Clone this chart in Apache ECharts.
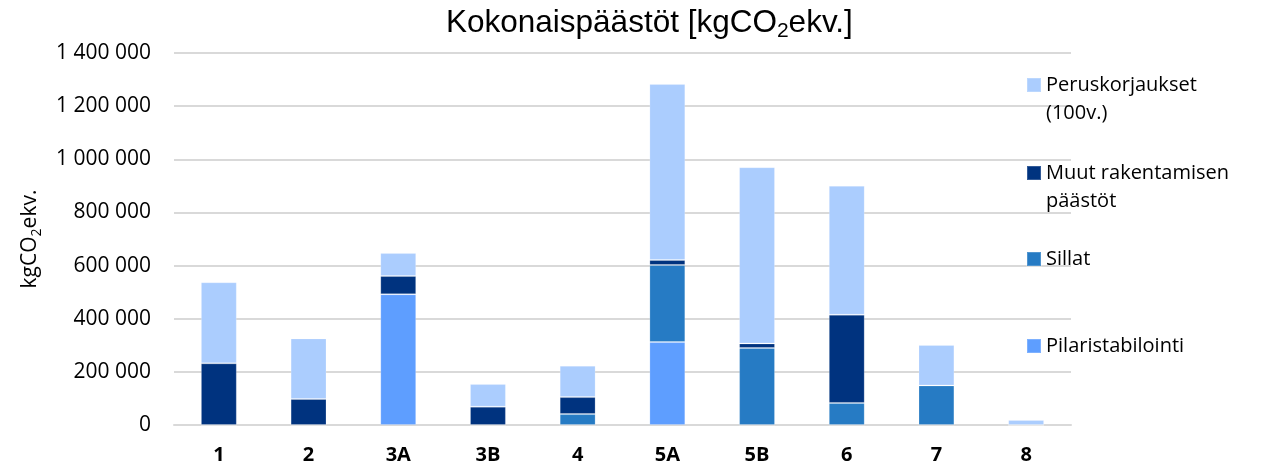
<!DOCTYPE html>
<html>
<head>
<meta charset="utf-8">
<script src="https://cdn.jsdelivr.net/npm/echarts@6/dist/echarts.min.js"></script>
<style>
html,body{margin:0;padding:0;background:#fff;}
#chart{width:1263px;height:468px;}
</style>
</head>
<body>
<div id="chart"></div>
<script>
const categories = ['1','2','3A','3B','4','5A','5B','6','7','8'];
const pilaristabilointi = [0, 0, 492000, 0, 0, 312000, 0, 0, 0, 0];
const sillat = [0, 0, 0, 0, 41000, 290000, 290000, 83000, 149000, 0];
const muut = [232000, 98000, 69000, 69000, 64000, 19000, 17000, 332000, 0, 0];
const peruskorjaukset = [305000, 228000, 86000, 85000, 118000, 662000, 663000, 485000, 152000, 19000];

const names = {
  pilari: 'Pilaristabilointi',
  sillat: 'Sillat',
  muut: 'Muut rakentamisen päästöt',
  perus: 'Peruskorjaukset (100v.)'
};
const colors = {
  pilari: '#5e9eff',
  sillat: '#267bc4',
  muut: '#00337f',
  perus: '#abcdfe'
};
const FONT = '"Open Sans", sans-serif';
const TFONT = '"Liberation Sans", Arial, sans-serif';

function fmt(v) {
  return String(v).replace(/\B(?=(\d{3})+(?!\d))/g, ' ');
}

function legendItem(name, top, label) {
  return {
    orient: 'vertical',
    left: 1026,
    top: top,
    padding: 0,
    itemWidth: 14,
    itemHeight: 14,
    itemGap: 0,
    icon: 'rect',
    selectedMode: false,
    data: [name],
    formatter: function () { return label; },
    textStyle: {
      fontFamily: FONT,
      fontSize: 20,
      lineHeight: 28,
      color: '#000'
    }
  };
}

function barSeries(key, data) {
  return {
    name: names[key],
    type: 'bar',
    stack: 'total',
    data: data,
    barCategoryGap: '60%',
    itemStyle: {
      color: colors[key],
      borderColor: 'rgba(255,255,255,0.2)',
      borderWidth: 1
    },
    emphasis: { disabled: true }
  };
}

const chart = echarts.init(document.getElementById('chart'), null, { renderer: 'canvas' });
chart.setOption({
  animation: false,
  backgroundColor: '#fff',
  title: {
    text: '{a|Kokonaispäästöt [kgCO}{s|2}{a|ekv.]}',
    left: 446,
    top: 4,
    padding: 0,
    textStyle: {
      fontWeight: 'normal',
      rich: {
        a: { fontFamily: TFONT, fontWeight: 'normal', fontSize: 31.5, lineHeight: 38, color: '#000' },
        s: { fontFamily: TFONT, fontWeight: 'normal', fontSize: 21, lineHeight: 23, verticalAlign: 'bottom', color: '#000' }
      }
    }
  },
  legend: [
    legendItem(names.perus, 43, ' \nPeruskorjaukset\n(100v.)'),
    legendItem(names.muut, 131, ' \nMuut rakentamisen\npäästöt'),
    legendItem(names.sillat, 245, 'Sillat'),
    legendItem(names.pilari, 332, 'Pilaristabilointi')
  ],
  grid: {
    left: 174,
    right: 192,
    top: 53,
    bottom: 43,
    containLabel: false
  },
  xAxis: {
    type: 'category',
    data: categories,
    axisLine: { show: true, lineStyle: { color: '#d9d9d9', width: 2 } },
    axisTick: { show: false },
    axisLabel: {
      margin: 20,
      fontFamily: FONT,
      fontWeight: 'bold',
      fontSize: 20,
      color: '#000'
    }
  },
  yAxis: {
    type: 'value',
    min: 0,
    max: 1400000,
    interval: 200000,
    name: '{a|kgCO}{s|2}{a|ekv.}',
    nameLocation: 'middle',
    nameGap: 130,
    nameRotate: 90,
    nameTextStyle: {
      rich: {
        a: { fontFamily: FONT, fontSize: 21, lineHeight: 28, color: '#000' },
        s: { fontFamily: FONT, fontSize: 14, lineHeight: 16, verticalAlign: 'bottom', color: '#000' }
      }
    },
    axisLine: { show: false },
    axisTick: { show: false },
    splitLine: { show: true, lineStyle: { color: '#d9d9d9', width: 2 } },
    axisLabel: {
      margin: 23,
      fontFamily: FONT,
      fontSize: 21,
      color: '#000',
      formatter: fmt
    }
  },
  series: [
    barSeries('pilari', pilaristabilointi),
    barSeries('sillat', sillat),
    barSeries('muut', muut),
    barSeries('perus', peruskorjaukset)
  ]
});
</script>
</body>
</html>
